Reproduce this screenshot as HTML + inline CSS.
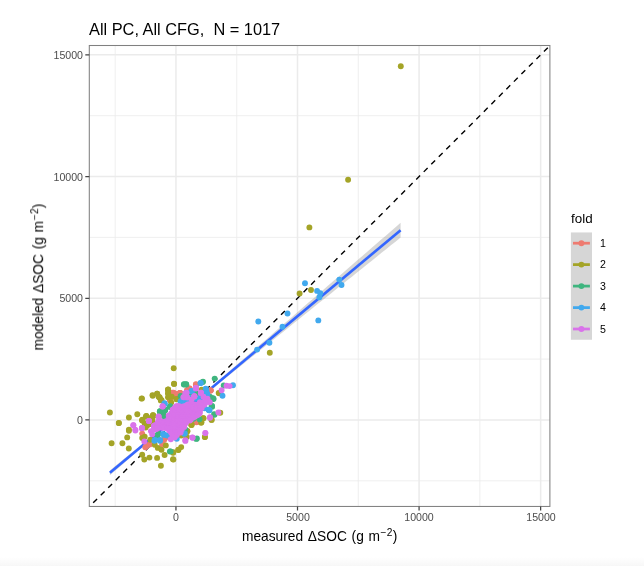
<!DOCTYPE html>
<html><head><meta charset="utf-8"><title>plot</title>
<style>
html,body{margin:0;padding:0;background:#fff;}
body{width:644px;height:566px;position:relative;overflow:hidden;font-family:"Liberation Sans",sans-serif;}
.t{position:absolute;white-space:nowrap;line-height:1;will-change:transform;}
.ax{font-size:10.6px;color:#4d4d4d;}
.yl{text-align:right;width:60px;}
.xl{text-align:center;width:60px;}
sup{font-size:74%;line-height:0;vertical-align:baseline;position:relative;top:-0.54em;margin-left:0.6px;letter-spacing:0.3px;}
.bot{position:absolute;left:0;top:557px;width:644px;height:9px;background:linear-gradient(#fff,#f7f7f7);}
</style></head><body>
<div class="bot"></div>
<svg width="644" height="566" viewBox="0 0 644 566" style="position:absolute;left:0;top:0"><rect x="89.3" y="45.5" width="460.59999999999997" height="460.95" fill="#fff"/><path d="M115.17 45.5V506.45M89.3 480.80H549.9M236.73 45.5V506.45M89.3 359.10H549.9M358.30 45.5V506.45M89.3 237.40H549.9M479.86 45.5V506.45M89.3 115.70H549.9" stroke="#EBEBEB" stroke-width="0.8" fill="none"/><path d="M175.95 45.5V506.45M89.3 419.95H549.9M297.51 45.5V506.45M89.3 298.25H549.9M419.08 45.5V506.45M89.3 176.55H549.9M540.64 45.5V506.45M89.3 54.85H549.9" stroke="#EBEBEB" stroke-width="1.5" fill="none"/><clipPath id="c"><rect x="89.3" y="45.5" width="460.59999999999997" height="460.95"/></clipPath><g clip-path="url(#c)"><path d="M89.3 506.70L549.9 45.58" stroke="#000" stroke-width="1.4" stroke-dasharray="5.45 5.18" stroke-dashoffset="5.1" fill="none"/><path d="M109.9 470.4L114.7 466.5L119.6 462.6L124.4 458.6L129.3 454.7L134.1 450.8L139.0 446.9L143.8 443.0L148.7 439.1L153.5 435.1L158.4 431.2L163.2 427.2L168.0 423.2L172.9 419.2L177.7 415.2L182.6 411.1L187.4 407.1L192.3 403.0L197.1 398.8L202.0 394.7L206.8 390.6L211.6 386.4L216.5 382.2L221.3 378.1L226.2 373.9L231.0 369.7L235.9 365.5L240.7 361.3L245.6 357.2L250.4 353.0L255.3 348.8L260.1 344.6L264.9 340.4L269.8 336.2L274.6 332.0L279.5 327.8L284.3 323.6L289.2 319.4L294.0 315.2L298.9 311.0L303.7 306.8L308.5 302.6L313.4 298.4L318.2 294.2L323.1 290.0L327.9 285.8L332.8 281.6L337.6 277.4L342.5 273.2L347.3 269.0L352.2 264.8L357.0 260.6L361.8 256.4L366.7 252.2L371.5 248.0L376.4 243.8L381.2 239.6L386.1 235.4L390.9 231.2L395.8 227.0L400.6 222.8L400.6 237.6L395.8 241.5L390.9 245.3L386.1 249.2L381.2 253.1L376.4 257.0L371.5 260.9L366.7 264.8L361.8 268.7L357.0 272.5L352.2 276.4L347.3 280.3L342.5 284.2L337.6 288.1L332.8 292.0L327.9 295.9L323.1 299.8L318.2 303.6L313.4 307.5L308.5 311.4L303.7 315.3L298.9 319.2L294.0 323.1L289.2 327.0L284.3 330.9L279.5 334.8L274.6 338.7L269.8 342.5L264.9 346.4L260.1 350.3L255.3 354.2L250.4 358.1L245.6 362.0L240.7 365.9L235.9 369.8L231.0 373.7L226.2 377.6L221.3 381.5L216.5 385.5L211.6 389.4L206.8 393.3L202.0 397.2L197.1 401.2L192.3 405.2L187.4 409.2L182.6 413.2L177.7 417.2L172.9 421.3L168.0 425.3L163.2 429.4L158.4 433.6L153.5 437.7L148.7 441.8L143.8 446.0L139.0 450.2L134.1 454.3L129.3 458.5L124.4 462.7L119.6 466.9L114.7 471.1L109.9 475.2Z" fill="#999" fill-opacity="0.4"/><path d="M109.9 472.8L400.6 230.2" stroke="#3366FF" stroke-width="2.65" fill="none"/><g fill="#EE7B70"><circle cx="210.7" cy="390.2" r="2.95"/><circle cx="196.1" cy="384.8" r="2.95"/><circle cx="189.3" cy="388.8" r="2.95"/><circle cx="179.9" cy="392.9" r="2.95"/><circle cx="173.7" cy="393.5" r="2.95"/><circle cx="196.5" cy="422.1" r="2.95"/><circle cx="142.2" cy="433.6" r="2.95"/><circle cx="145.3" cy="447.3" r="2.95"/><circle cx="149.7" cy="444.4" r="2.95"/><circle cx="146.6" cy="445.4" r="2.95"/><circle cx="162.1" cy="444.8" r="2.95"/><circle cx="164.0" cy="439.8" r="2.95"/><circle cx="172.6" cy="392.6" r="2.95"/><circle cx="180.1" cy="393.0" r="2.95"/><circle cx="176.3" cy="394.9" r="2.95"/><circle cx="169.8" cy="400.0" r="2.95"/><circle cx="195.9" cy="384.2" r="2.95"/><circle cx="189.4" cy="388.9" r="2.95"/><circle cx="187.1" cy="390.3" r="2.95"/><circle cx="196.4" cy="421.9" r="2.95"/><circle cx="173.7" cy="392.6" r="2.95"/><circle cx="179.8" cy="393.1" r="2.95"/><circle cx="170.2" cy="400.1" r="2.95"/><circle cx="188.9" cy="388.5" r="2.95"/><circle cx="210.6" cy="390.6" r="2.95"/><circle cx="196.4" cy="422.3" r="2.95"/><circle cx="164.6" cy="439.0" r="2.95"/><circle cx="196.0" cy="384.9" r="2.95"/><circle cx="189.7" cy="388.4" r="2.95"/><circle cx="187.2" cy="390.1" r="2.95"/><circle cx="176.4" cy="394.0" r="2.95"/><circle cx="180.2" cy="392.9" r="2.95"/><circle cx="210.6" cy="390.5" r="2.95"/><circle cx="163.5" cy="440.0" r="2.95"/><circle cx="165.5" cy="437.5" r="2.95"/><circle cx="147.0" cy="445.5" r="2.95"/></g><g fill="#A4A427"><circle cx="400.8" cy="66.2" r="2.95"/><circle cx="348.1" cy="179.8" r="2.95"/><circle cx="309.4" cy="227.4" r="2.95"/><circle cx="299.6" cy="293.5" r="2.95"/><circle cx="311.0" cy="290.0" r="2.95"/><circle cx="269.8" cy="352.8" r="2.95"/><circle cx="109.9" cy="412.5" r="2.95"/><circle cx="118.8" cy="423.0" r="2.95"/><circle cx="128.9" cy="417.5" r="2.95"/><circle cx="137.3" cy="414.2" r="2.95"/><circle cx="141.6" cy="398.6" r="2.95"/><circle cx="152.7" cy="395.8" r="2.95"/><circle cx="157.2" cy="393.8" r="2.95"/><circle cx="159.6" cy="397.3" r="2.95"/><circle cx="160.8" cy="400.4" r="2.95"/><circle cx="168.0" cy="389.8" r="2.95"/><circle cx="168.0" cy="393.5" r="2.95"/><circle cx="168.0" cy="397.3" r="2.95"/><circle cx="146.5" cy="416.5" r="2.95"/><circle cx="153.4" cy="415.9" r="2.95"/><circle cx="142.2" cy="420.2" r="2.95"/><circle cx="144.7" cy="423.4" r="2.95"/><circle cx="150.9" cy="424.0" r="2.95"/><circle cx="128.9" cy="429.6" r="2.95"/><circle cx="173.7" cy="368.3" r="2.95"/><circle cx="174.1" cy="383.9" r="2.95"/><circle cx="219.3" cy="393.2" r="2.95"/><circle cx="191.7" cy="424.8" r="2.95"/><circle cx="201.1" cy="422.7" r="2.95"/><circle cx="203.3" cy="418.1" r="2.95"/><circle cx="211.6" cy="419.9" r="2.95"/><circle cx="220.3" cy="412.8" r="2.95"/><circle cx="204.8" cy="437.1" r="2.95"/><circle cx="181.2" cy="447.1" r="2.95"/><circle cx="178.4" cy="450.1" r="2.95"/><circle cx="173.1" cy="452.7" r="2.95"/><circle cx="173.4" cy="459.6" r="2.95"/><circle cx="186.8" cy="436.8" r="2.95"/><circle cx="187.4" cy="431.2" r="2.95"/><circle cx="181.2" cy="435.6" r="2.95"/><circle cx="118.9" cy="423.1" r="2.95"/><circle cx="128.9" cy="430.8" r="2.95"/><circle cx="127.2" cy="437.4" r="2.95"/><circle cx="111.6" cy="443.2" r="2.95"/><circle cx="122.4" cy="443.2" r="2.95"/><circle cx="128.8" cy="448.5" r="2.95"/><circle cx="142.2" cy="420.6" r="2.95"/><circle cx="146.0" cy="416.2" r="2.95"/><circle cx="152.2" cy="416.9" r="2.95"/><circle cx="153.4" cy="423.7" r="2.95"/><circle cx="147.2" cy="425.6" r="2.95"/><circle cx="144.7" cy="436.7" r="2.95"/><circle cx="142.2" cy="438.0" r="2.95"/><circle cx="150.3" cy="439.8" r="2.95"/><circle cx="142.2" cy="454.8" r="2.95"/><circle cx="144.3" cy="459.5" r="2.95"/><circle cx="149.4" cy="457.6" r="2.95"/><circle cx="157.1" cy="457.9" r="2.95"/><circle cx="160.9" cy="465.7" r="2.95"/><circle cx="164.6" cy="455.0" r="2.95"/><circle cx="173.0" cy="459.3" r="2.95"/><circle cx="157.8" cy="447.9" r="2.95"/><circle cx="161.5" cy="449.8" r="2.95"/><circle cx="165.8" cy="445.4" r="2.95"/><circle cx="173.3" cy="452.3" r="2.95"/><circle cx="178.3" cy="449.8" r="2.95"/><circle cx="154.7" cy="444.8" r="2.95"/><circle cx="174.0" cy="383.7" r="2.95"/><circle cx="168.0" cy="389.8" r="2.95"/><circle cx="168.9" cy="396.3" r="2.95"/><circle cx="171.7" cy="396.8" r="2.95"/><circle cx="158.6" cy="396.8" r="2.95"/><circle cx="161.0" cy="400.0" r="2.95"/><circle cx="141.9" cy="398.4" r="2.95"/><circle cx="176.3" cy="399.1" r="2.95"/><circle cx="171.2" cy="402.4" r="2.95"/><circle cx="146.5" cy="415.9" r="2.95"/><circle cx="153.0" cy="415.2" r="2.95"/><circle cx="142.3" cy="419.6" r="2.95"/><circle cx="152.1" cy="423.8" r="2.95"/><circle cx="145.6" cy="427.5" r="2.95"/><circle cx="191.3" cy="424.7" r="2.95"/><circle cx="168.2" cy="389.5" r="2.95"/><circle cx="168.2" cy="393.1" r="2.95"/><circle cx="169.2" cy="396.6" r="2.95"/><circle cx="176.7" cy="399.1" r="2.95"/><circle cx="152.5" cy="395.1" r="2.95"/><circle cx="157.1" cy="393.6" r="2.95"/><circle cx="159.6" cy="397.6" r="2.95"/><circle cx="161.6" cy="400.1" r="2.95"/><circle cx="153.0" cy="415.3" r="2.95"/><circle cx="152.0" cy="419.3" r="2.95"/><circle cx="191.4" cy="424.9" r="2.95"/><circle cx="201.5" cy="422.3" r="2.95"/><circle cx="203.5" cy="418.3" r="2.95"/><circle cx="211.6" cy="419.8" r="2.95"/><circle cx="205.0" cy="437.0" r="2.95"/><circle cx="187.3" cy="430.9" r="2.95"/><circle cx="186.3" cy="437.0" r="2.95"/><circle cx="176.7" cy="399.2" r="2.95"/><circle cx="201.6" cy="389.8" r="2.95"/><circle cx="218.7" cy="392.9" r="2.95"/><circle cx="152.3" cy="419.5" r="2.95"/><circle cx="150.5" cy="424.0" r="2.95"/><circle cx="148.5" cy="418.5" r="2.95"/><circle cx="164.0" cy="416.2" r="2.95"/></g><g fill="#3FB57F"><circle cx="160.2" cy="412.2" r="2.95"/><circle cx="164.5" cy="411.0" r="2.95"/><circle cx="183.9" cy="384.5" r="2.95"/><circle cx="186.2" cy="384.5" r="2.95"/><circle cx="214.7" cy="378.6" r="2.95"/><circle cx="202.5" cy="382.1" r="2.95"/><circle cx="213.5" cy="399.1" r="2.95"/><circle cx="211.6" cy="406.0" r="2.95"/><circle cx="214.5" cy="414.7" r="2.95"/><circle cx="223.7" cy="385.5" r="2.95"/><circle cx="196.3" cy="438.9" r="2.95"/><circle cx="170.6" cy="451.4" r="2.95"/><circle cx="157.1" cy="435.5" r="2.95"/><circle cx="158.4" cy="433.6" r="2.95"/><circle cx="169.9" cy="451.4" r="2.95"/><circle cx="160.0" cy="411.2" r="2.95"/><circle cx="165.2" cy="409.8" r="2.95"/><circle cx="169.8" cy="407.0" r="2.95"/><circle cx="164.7" cy="417.7" r="2.95"/><circle cx="160.6" cy="411.7" r="2.95"/><circle cx="165.1" cy="410.2" r="2.95"/><circle cx="170.2" cy="406.2" r="2.95"/><circle cx="212.6" cy="398.1" r="2.95"/><circle cx="212.1" cy="406.7" r="2.95"/><circle cx="214.1" cy="414.3" r="2.95"/><circle cx="196.9" cy="438.5" r="2.95"/><circle cx="157.6" cy="435.5" r="2.95"/><circle cx="185.3" cy="429.4" r="2.95"/><circle cx="193.4" cy="418.8" r="2.95"/><circle cx="199.5" cy="419.3" r="2.95"/><circle cx="184.1" cy="384.3" r="2.95"/><circle cx="186.2" cy="384.3" r="2.95"/><circle cx="203.0" cy="381.7" r="2.95"/><circle cx="190.7" cy="394.7" r="2.95"/><circle cx="195.6" cy="392.6" r="2.95"/><circle cx="180.6" cy="396.0" r="2.95"/><circle cx="213.4" cy="398.5" r="2.95"/><circle cx="212.0" cy="405.9" r="2.95"/><circle cx="209.9" cy="396.8" r="2.95"/><circle cx="200.2" cy="400.3" r="2.95"/><circle cx="197.5" cy="394.5" r="2.95"/><circle cx="204.0" cy="393.0" r="2.95"/><circle cx="164.8" cy="418.0" r="2.95"/><circle cx="163.0" cy="413.2" r="2.95"/><circle cx="159.8" cy="411.5" r="2.95"/><circle cx="165.0" cy="409.5" r="2.95"/></g><g fill="#41A9EE"><circle cx="305.0" cy="283.3" r="2.95"/><circle cx="317.1" cy="290.9" r="2.95"/><circle cx="320.3" cy="293.2" r="2.95"/><circle cx="319.4" cy="297.3" r="2.95"/><circle cx="339.3" cy="279.6" r="2.95"/><circle cx="341.5" cy="285.0" r="2.95"/><circle cx="318.3" cy="320.4" r="2.95"/><circle cx="287.5" cy="313.5" r="2.95"/><circle cx="258.3" cy="321.5" r="2.95"/><circle cx="282.5" cy="326.7" r="2.95"/><circle cx="269.4" cy="342.7" r="2.95"/><circle cx="257.1" cy="349.6" r="2.95"/><circle cx="164.5" cy="404.1" r="2.95"/><circle cx="200.7" cy="383.0" r="2.95"/><circle cx="205.8" cy="389.2" r="2.95"/><circle cx="191.7" cy="391.1" r="2.95"/><circle cx="207.3" cy="394.2" r="2.95"/><circle cx="201.0" cy="397.3" r="2.95"/><circle cx="209.1" cy="410.3" r="2.95"/><circle cx="222.5" cy="395.8" r="2.95"/><circle cx="233.0" cy="385.2" r="2.95"/><circle cx="184.3" cy="433.7" r="2.95"/><circle cx="176.8" cy="438.7" r="2.95"/><circle cx="154.4" cy="440.7" r="2.95"/><circle cx="159.9" cy="440.7" r="2.95"/><circle cx="164.0" cy="434.9" r="2.95"/><circle cx="173.9" cy="431.1" r="2.95"/><circle cx="164.5" cy="403.3" r="2.95"/><circle cx="191.7" cy="391.2" r="2.95"/><circle cx="181.0" cy="401.4" r="2.95"/><circle cx="190.3" cy="397.7" r="2.95"/><circle cx="185.7" cy="420.1" r="2.95"/><circle cx="164.6" cy="403.7" r="2.95"/><circle cx="191.4" cy="391.1" r="2.95"/><circle cx="206.0" cy="389.5" r="2.95"/><circle cx="200.5" cy="397.1" r="2.95"/><circle cx="207.0" cy="394.6" r="2.95"/><circle cx="192.4" cy="398.1" r="2.95"/><circle cx="180.5" cy="401.5" r="2.95"/><circle cx="209.5" cy="410.2" r="2.95"/><circle cx="204.5" cy="408.2" r="2.95"/><circle cx="173.2" cy="430.9" r="2.95"/><circle cx="163.1" cy="434.0" r="2.95"/><circle cx="184.8" cy="433.4" r="2.95"/><circle cx="155.0" cy="440.0" r="2.95"/><circle cx="160.1" cy="440.0" r="2.95"/><circle cx="185.8" cy="420.8" r="2.95"/><circle cx="200.5" cy="383.1" r="2.95"/><circle cx="191.6" cy="391.2" r="2.95"/><circle cx="205.7" cy="388.7" r="2.95"/><circle cx="207.1" cy="394.3" r="2.95"/><circle cx="201.2" cy="397.1" r="2.95"/><circle cx="181.3" cy="401.7" r="2.95"/><circle cx="185.5" cy="401.0" r="2.95"/><circle cx="191.1" cy="398.9" r="2.95"/><circle cx="208.5" cy="409.7" r="2.95"/><circle cx="204.4" cy="408.0" r="2.95"/><circle cx="188.5" cy="399.8" r="2.95"/><circle cx="196.5" cy="398.8" r="2.95"/><circle cx="206.5" cy="391.5" r="2.95"/><circle cx="174.0" cy="431.1" r="2.95"/><circle cx="164.3" cy="434.4" r="2.95"/><circle cx="167.3" cy="435.6" r="2.95"/><circle cx="171.0" cy="433.5" r="2.95"/></g><g fill="#D973EA"><circle cx="199.9" cy="402.3" r="2.95"/><circle cx="201.8" cy="403.0" r="2.95"/><circle cx="203.7" cy="402.2" r="2.95"/><circle cx="204.8" cy="402.1" r="2.95"/><circle cx="206.6" cy="402.0" r="2.95"/><circle cx="187.7" cy="404.4" r="2.95"/><circle cx="189.6" cy="404.2" r="2.95"/><circle cx="191.4" cy="404.8" r="2.95"/><circle cx="193.5" cy="404.2" r="2.95"/><circle cx="195.7" cy="404.8" r="2.95"/><circle cx="197.4" cy="404.8" r="2.95"/><circle cx="199.4" cy="404.3" r="2.95"/><circle cx="201.3" cy="403.7" r="2.95"/><circle cx="203.1" cy="403.9" r="2.95"/><circle cx="204.5" cy="404.7" r="2.95"/><circle cx="176.1" cy="406.1" r="2.95"/><circle cx="178.0" cy="405.9" r="2.95"/><circle cx="179.9" cy="406.4" r="2.95"/><circle cx="182.6" cy="406.7" r="2.95"/><circle cx="183.8" cy="406.5" r="2.95"/><circle cx="186.3" cy="405.8" r="2.95"/><circle cx="188.5" cy="406.8" r="2.95"/><circle cx="189.6" cy="406.7" r="2.95"/><circle cx="191.7" cy="406.2" r="2.95"/><circle cx="194.3" cy="406.6" r="2.95"/><circle cx="195.2" cy="406.1" r="2.95"/><circle cx="197.5" cy="406.0" r="2.95"/><circle cx="199.0" cy="406.0" r="2.95"/><circle cx="201.6" cy="405.6" r="2.95"/><circle cx="174.6" cy="407.9" r="2.95"/><circle cx="176.7" cy="408.6" r="2.95"/><circle cx="178.2" cy="407.7" r="2.95"/><circle cx="180.4" cy="407.8" r="2.95"/><circle cx="181.8" cy="407.7" r="2.95"/><circle cx="183.7" cy="407.7" r="2.95"/><circle cx="185.9" cy="407.9" r="2.95"/><circle cx="188.3" cy="407.8" r="2.95"/><circle cx="189.9" cy="407.7" r="2.95"/><circle cx="191.6" cy="407.5" r="2.95"/><circle cx="193.4" cy="407.5" r="2.95"/><circle cx="195.9" cy="408.2" r="2.95"/><circle cx="197.1" cy="408.1" r="2.95"/><circle cx="199.9" cy="407.6" r="2.95"/><circle cx="201.7" cy="408.0" r="2.95"/><circle cx="172.6" cy="409.8" r="2.95"/><circle cx="174.1" cy="409.9" r="2.95"/><circle cx="176.6" cy="410.0" r="2.95"/><circle cx="178.1" cy="410.0" r="2.95"/><circle cx="179.8" cy="409.7" r="2.95"/><circle cx="181.8" cy="409.9" r="2.95"/><circle cx="183.7" cy="409.4" r="2.95"/><circle cx="185.9" cy="409.7" r="2.95"/><circle cx="188.1" cy="410.0" r="2.95"/><circle cx="190.2" cy="410.2" r="2.95"/><circle cx="192.1" cy="410.5" r="2.95"/><circle cx="193.6" cy="409.8" r="2.95"/><circle cx="196.2" cy="409.6" r="2.95"/><circle cx="197.8" cy="410.2" r="2.95"/><circle cx="198.9" cy="410.4" r="2.95"/><circle cx="173.1" cy="411.5" r="2.95"/><circle cx="175.0" cy="412.5" r="2.95"/><circle cx="176.6" cy="411.8" r="2.95"/><circle cx="178.5" cy="412.1" r="2.95"/><circle cx="180.7" cy="412.0" r="2.95"/><circle cx="182.5" cy="411.4" r="2.95"/><circle cx="183.8" cy="411.6" r="2.95"/><circle cx="186.4" cy="411.7" r="2.95"/><circle cx="188.1" cy="411.3" r="2.95"/><circle cx="189.4" cy="411.6" r="2.95"/><circle cx="192.0" cy="412.1" r="2.95"/><circle cx="193.9" cy="411.6" r="2.95"/><circle cx="195.6" cy="411.9" r="2.95"/><circle cx="197.5" cy="411.4" r="2.95"/><circle cx="199.9" cy="411.5" r="2.95"/><circle cx="171.3" cy="413.3" r="2.95"/><circle cx="173.3" cy="414.1" r="2.95"/><circle cx="175.2" cy="413.5" r="2.95"/><circle cx="176.4" cy="413.7" r="2.95"/><circle cx="179.1" cy="413.9" r="2.95"/><circle cx="180.2" cy="413.7" r="2.95"/><circle cx="182.0" cy="413.3" r="2.95"/><circle cx="183.7" cy="414.2" r="2.95"/><circle cx="185.8" cy="414.3" r="2.95"/><circle cx="187.7" cy="413.5" r="2.95"/><circle cx="189.9" cy="413.4" r="2.95"/><circle cx="191.6" cy="414.3" r="2.95"/><circle cx="194.2" cy="414.2" r="2.95"/><circle cx="195.8" cy="414.3" r="2.95"/><circle cx="198.0" cy="413.9" r="2.95"/><circle cx="199.7" cy="413.3" r="2.95"/><circle cx="168.7" cy="415.4" r="2.95"/><circle cx="171.0" cy="416.2" r="2.95"/><circle cx="173.1" cy="415.6" r="2.95"/><circle cx="174.6" cy="415.7" r="2.95"/><circle cx="176.5" cy="415.5" r="2.95"/><circle cx="178.0" cy="415.4" r="2.95"/><circle cx="181.0" cy="415.3" r="2.95"/><circle cx="182.3" cy="415.9" r="2.95"/><circle cx="184.6" cy="415.4" r="2.95"/><circle cx="185.8" cy="415.4" r="2.95"/><circle cx="187.9" cy="415.6" r="2.95"/><circle cx="190.4" cy="416.1" r="2.95"/><circle cx="192.2" cy="415.1" r="2.95"/><circle cx="193.1" cy="416.0" r="2.95"/><circle cx="196.1" cy="415.7" r="2.95"/><circle cx="197.6" cy="415.1" r="2.95"/><circle cx="168.8" cy="417.6" r="2.95"/><circle cx="171.5" cy="417.8" r="2.95"/><circle cx="173.3" cy="417.6" r="2.95"/><circle cx="174.4" cy="417.3" r="2.95"/><circle cx="177.2" cy="417.8" r="2.95"/><circle cx="178.3" cy="417.0" r="2.95"/><circle cx="180.4" cy="417.8" r="2.95"/><circle cx="182.2" cy="417.3" r="2.95"/><circle cx="184.4" cy="418.1" r="2.95"/><circle cx="185.8" cy="417.0" r="2.95"/><circle cx="187.8" cy="417.5" r="2.95"/><circle cx="190.1" cy="417.2" r="2.95"/><circle cx="192.2" cy="417.9" r="2.95"/><circle cx="193.7" cy="417.2" r="2.95"/><circle cx="168.7" cy="419.3" r="2.95"/><circle cx="171.4" cy="419.0" r="2.95"/><circle cx="173.4" cy="419.1" r="2.95"/><circle cx="174.5" cy="419.9" r="2.95"/><circle cx="177.0" cy="419.4" r="2.95"/><circle cx="178.0" cy="419.5" r="2.95"/><circle cx="180.2" cy="420.0" r="2.95"/><circle cx="181.9" cy="419.3" r="2.95"/><circle cx="184.7" cy="418.9" r="2.95"/><circle cx="186.0" cy="419.9" r="2.95"/><circle cx="188.3" cy="418.9" r="2.95"/><circle cx="189.3" cy="419.0" r="2.95"/><circle cx="158.0" cy="421.7" r="2.95"/><circle cx="159.6" cy="421.2" r="2.95"/><circle cx="161.2" cy="421.2" r="2.95"/><circle cx="164.8" cy="421.7" r="2.95"/><circle cx="166.8" cy="420.9" r="2.95"/><circle cx="168.4" cy="421.5" r="2.95"/><circle cx="170.7" cy="422.0" r="2.95"/><circle cx="173.3" cy="422.0" r="2.95"/><circle cx="174.4" cy="420.9" r="2.95"/><circle cx="176.1" cy="421.4" r="2.95"/><circle cx="178.8" cy="421.3" r="2.95"/><circle cx="180.1" cy="421.3" r="2.95"/><circle cx="182.4" cy="421.6" r="2.95"/><circle cx="184.5" cy="421.8" r="2.95"/><circle cx="186.3" cy="420.9" r="2.95"/><circle cx="157.3" cy="423.6" r="2.95"/><circle cx="160.0" cy="422.8" r="2.95"/><circle cx="161.5" cy="423.4" r="2.95"/><circle cx="163.0" cy="423.1" r="2.95"/><circle cx="164.8" cy="422.9" r="2.95"/><circle cx="166.8" cy="423.4" r="2.95"/><circle cx="169.2" cy="422.9" r="2.95"/><circle cx="170.3" cy="423.1" r="2.95"/><circle cx="173.0" cy="422.9" r="2.95"/><circle cx="174.5" cy="422.9" r="2.95"/><circle cx="177.0" cy="423.4" r="2.95"/><circle cx="178.0" cy="422.8" r="2.95"/><circle cx="180.3" cy="423.4" r="2.95"/><circle cx="182.5" cy="422.8" r="2.95"/><circle cx="183.8" cy="423.5" r="2.95"/><circle cx="186.0" cy="423.0" r="2.95"/><circle cx="153.8" cy="425.7" r="2.95"/><circle cx="155.2" cy="425.2" r="2.95"/><circle cx="158.0" cy="425.8" r="2.95"/><circle cx="159.1" cy="424.8" r="2.95"/><circle cx="161.9" cy="425.8" r="2.95"/><circle cx="163.3" cy="424.7" r="2.95"/><circle cx="165.7" cy="425.1" r="2.95"/><circle cx="167.6" cy="425.3" r="2.95"/><circle cx="169.4" cy="424.8" r="2.95"/><circle cx="171.2" cy="424.9" r="2.95"/><circle cx="172.7" cy="425.6" r="2.95"/><circle cx="175.1" cy="424.8" r="2.95"/><circle cx="176.3" cy="425.1" r="2.95"/><circle cx="178.5" cy="425.1" r="2.95"/><circle cx="179.9" cy="424.9" r="2.95"/><circle cx="182.6" cy="425.7" r="2.95"/><circle cx="183.6" cy="425.3" r="2.95"/><circle cx="154.1" cy="427.4" r="2.95"/><circle cx="155.7" cy="426.6" r="2.95"/><circle cx="157.6" cy="427.0" r="2.95"/><circle cx="160.0" cy="426.7" r="2.95"/><circle cx="161.8" cy="427.7" r="2.95"/><circle cx="163.6" cy="427.5" r="2.95"/><circle cx="164.8" cy="427.7" r="2.95"/><circle cx="167.1" cy="427.6" r="2.95"/><circle cx="169.5" cy="426.7" r="2.95"/><circle cx="171.2" cy="427.6" r="2.95"/><circle cx="172.3" cy="426.9" r="2.95"/><circle cx="175.0" cy="426.7" r="2.95"/><circle cx="177.1" cy="426.8" r="2.95"/><circle cx="178.9" cy="426.7" r="2.95"/><circle cx="180.4" cy="427.6" r="2.95"/><circle cx="181.9" cy="426.8" r="2.95"/><circle cx="184.2" cy="426.9" r="2.95"/><circle cx="154.0" cy="429.6" r="2.95"/><circle cx="155.8" cy="429.2" r="2.95"/><circle cx="157.4" cy="428.4" r="2.95"/><circle cx="167.3" cy="428.4" r="2.95"/><circle cx="168.4" cy="428.8" r="2.95"/><circle cx="170.4" cy="428.8" r="2.95"/><circle cx="172.5" cy="429.1" r="2.95"/><circle cx="174.8" cy="428.6" r="2.95"/><circle cx="176.7" cy="429.0" r="2.95"/><circle cx="178.1" cy="429.5" r="2.95"/><circle cx="180.1" cy="428.6" r="2.95"/><circle cx="181.8" cy="429.2" r="2.95"/><circle cx="169.3" cy="430.6" r="2.95"/><circle cx="171.0" cy="430.8" r="2.95"/><circle cx="173.1" cy="430.9" r="2.95"/><circle cx="174.4" cy="431.1" r="2.95"/><circle cx="177.2" cy="430.6" r="2.95"/><circle cx="179.0" cy="430.3" r="2.95"/><circle cx="180.1" cy="430.6" r="2.95"/><circle cx="171.1" cy="432.5" r="2.95"/><circle cx="172.3" cy="432.3" r="2.95"/><circle cx="175.0" cy="432.4" r="2.95"/><circle cx="176.4" cy="432.7" r="2.95"/><circle cx="177.9" cy="432.5" r="2.95"/><circle cx="172.5" cy="434.7" r="2.95"/><circle cx="174.7" cy="435.0" r="2.95"/><circle cx="176.9" cy="434.9" r="2.95"/><circle cx="173.1" cy="436.8" r="2.95"/><circle cx="133.4" cy="425.1" r="2.95"/><circle cx="149.0" cy="420.9" r="2.95"/><circle cx="141.9" cy="428.1" r="2.95"/><circle cx="162.7" cy="406.6" r="2.95"/><circle cx="135.3" cy="429.6" r="2.95"/><circle cx="195.8" cy="388.3" r="2.95"/><circle cx="200.8" cy="392.9" r="2.95"/><circle cx="194.2" cy="396.6" r="2.95"/><circle cx="186.1" cy="394.2" r="2.95"/><circle cx="183.7" cy="397.3" r="2.95"/><circle cx="221.6" cy="390.2" r="2.95"/><circle cx="226.5" cy="385.7" r="2.95"/><circle cx="229.6" cy="386.1" r="2.95"/><circle cx="218.4" cy="412.5" r="2.95"/><circle cx="210.0" cy="417.8" r="2.95"/><circle cx="209.8" cy="402.2" r="2.95"/><circle cx="206.0" cy="401.6" r="2.95"/><circle cx="189.9" cy="420.5" r="2.95"/><circle cx="205.4" cy="433.1" r="2.95"/><circle cx="192.6" cy="437.8" r="2.95"/><circle cx="185.4" cy="440.9" r="2.95"/><circle cx="175.0" cy="436.8" r="2.95"/><circle cx="180.6" cy="432.5" r="2.95"/><circle cx="133.3" cy="425.3" r="2.95"/><circle cx="135.4" cy="430.5" r="2.95"/><circle cx="141.9" cy="428.3" r="2.95"/><circle cx="148.8" cy="421.0" r="2.95"/><circle cx="144.3" cy="441.5" r="2.95"/><circle cx="150.9" cy="431.1" r="2.95"/><circle cx="152.2" cy="434.3" r="2.95"/><circle cx="170.8" cy="439.2" r="2.95"/><circle cx="174.5" cy="437.4" r="2.95"/><circle cx="162.6" cy="406.4" r="2.95"/><circle cx="148.9" cy="421.0" r="2.95"/><circle cx="141.9" cy="428.0" r="2.95"/><circle cx="195.9" cy="388.4" r="2.95"/><circle cx="185.2" cy="397.2" r="2.95"/><circle cx="194.5" cy="396.3" r="2.95"/><circle cx="186.6" cy="392.6" r="2.95"/><circle cx="189.9" cy="420.1" r="2.95"/><circle cx="162.6" cy="406.2" r="2.95"/><circle cx="195.9" cy="388.0" r="2.95"/><circle cx="201.0" cy="392.6" r="2.95"/><circle cx="194.4" cy="396.1" r="2.95"/><circle cx="185.3" cy="393.1" r="2.95"/><circle cx="184.3" cy="397.1" r="2.95"/><circle cx="187.3" cy="397.6" r="2.95"/><circle cx="210.0" cy="417.3" r="2.95"/><circle cx="205.3" cy="432.9" r="2.95"/><circle cx="192.4" cy="437.5" r="2.95"/><circle cx="185.3" cy="440.3" r="2.95"/><circle cx="158.6" cy="416.8" r="2.95"/><circle cx="203.5" cy="396.8" r="2.95"/><circle cx="207.5" cy="398.6" r="2.95"/><circle cx="191.5" cy="399.6" r="2.95"/><circle cx="196.0" cy="388.2" r="2.95"/><circle cx="200.9" cy="392.8" r="2.95"/><circle cx="186.2" cy="393.3" r="2.95"/><circle cx="183.4" cy="397.1" r="2.95"/><circle cx="186.9" cy="397.1" r="2.95"/><circle cx="194.2" cy="396.4" r="2.95"/><circle cx="158.7" cy="416.5" r="2.95"/></g></g><rect x="89.3" y="45.5" width="460.59999999999997" height="460.95" fill="none" stroke="#808080" stroke-width="1.05"/><path d="M175.95 506.45v4.0M89.3 419.95h-4.0M297.51 506.45v4.0M89.3 298.25h-4.0M419.08 506.45v4.0M89.3 176.55h-4.0M540.64 506.45v4.0M89.3 54.85h-4.0" stroke="#444" stroke-width="1.25" fill="none"/><rect x="570.9" y="232.45" width="21.1" height="107.3" fill="#D6D6D6"/><path d="M573.0 243.2H589.9" stroke="#EE7B70" stroke-width="2.75"/><circle cx="581.4" cy="243.2" r="2.95" fill="#EE7B70"/><path d="M573.0 264.6H589.9" stroke="#A4A427" stroke-width="2.75"/><circle cx="581.4" cy="264.6" r="2.95" fill="#A4A427"/><path d="M573.0 286.1H589.9" stroke="#3FB57F" stroke-width="2.75"/><circle cx="581.4" cy="286.1" r="2.95" fill="#3FB57F"/><path d="M573.0 307.6H589.9" stroke="#41A9EE" stroke-width="2.75"/><circle cx="581.4" cy="307.6" r="2.95" fill="#41A9EE"/><path d="M573.0 329.0H589.9" stroke="#D973EA" stroke-width="2.75"/><circle cx="581.4" cy="329.0" r="2.95" fill="#D973EA"/></svg>
<div class="t" id="title" style="left:89.2px;top:20.75px;font-size:16.35px;color:#000;">All PC, All CFG,&nbsp; N = 1017</div>
<div class="t ax yl" style="left:22.5px;top:49.8px;">15000</div>
<div class="t ax yl" style="left:22.5px;top:171.5px;">10000</div>
<div class="t ax yl" style="left:22.5px;top:293.2px;">5000</div>
<div class="t ax yl" style="left:22.5px;top:414.9px;">0</div>
<div class="t ax xl" style="left:145.95px;top:511.8px;">0</div>
<div class="t ax xl" style="left:267.5px;top:511.8px;">5000</div>
<div class="t ax xl" style="left:389.1px;top:511.8px;">10000</div>
<div class="t ax xl" style="left:510.65px;top:511.8px;">15000</div>
<div class="t" id="xt" style="left:242.4px;top:530.0px;font-size:13.75px;word-spacing:0.9px;color:#000;">measured &Delta;SOC (g m<sup>&minus;2</sup>)</div>
<div class="t" id="yt" style="left:38.7px;top:276.9px;font-size:13.75px;word-spacing:0.9px;color:#000;transform:translate(-50%,-50%) rotate(-90deg);">modeled &Delta;SOC (g m<sup>&minus;2</sup>)</div>
<div class="t" id="lt" style="left:571px;top:212.0px;font-size:13.4px;color:#000;">fold</div>
<div class="t lg" style="left:599.5px;top:237.9px;font-size:10.6px;color:#000;">1</div><div class="t lg" style="left:599.5px;top:259.3px;font-size:10.6px;color:#000;">2</div><div class="t lg" style="left:599.5px;top:280.8px;font-size:10.6px;color:#000;">3</div><div class="t lg" style="left:599.5px;top:302.3px;font-size:10.6px;color:#000;">4</div><div class="t lg" style="left:599.5px;top:323.7px;font-size:10.6px;color:#000;">5</div>
</body></html>
